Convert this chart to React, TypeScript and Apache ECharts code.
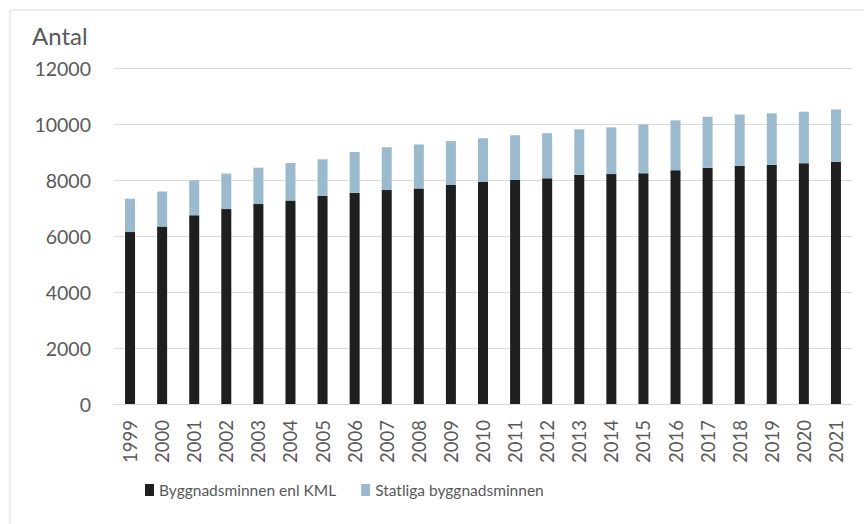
import React, { useEffect, useRef } from "react";
import * as echarts from "echarts";

const years = ["1999","2000","2001","2002","2003","2004","2005","2006","2007","2008","2009","2010","2011","2012","2013","2014","2015","2016","2017","2018","2019","2020","2021"];
const kml = [6140,6340,6740,6960,7140,7270,7440,7540,7640,7700,7830,7930,8000,8060,8190,8210,8240,8350,8440,8510,8540,8600,8650];
const statliga = [1190,1250,1250,1270,1300,1340,1300,1460,1530,1570,1560,1560,1600,1610,1620,1670,1740,1780,1820,1830,1840,1840,1870];
const yTicks = [0, 2000, 4000, 6000, 8000, 10000, 12000];

const FONT = "Lato, 'Open Sans', sans-serif";
const TXT = "#595959";

export default function App() {
  const ref = useRef<HTMLDivElement>(null);
  useEffect(() => {
    if (!ref.current) return;
    const chart = echarts.init(ref.current, null, { renderer: "svg" });
    chart.setOption({
      animation: false,
      backgroundColor: "#ffffff",
      textStyle: { fontFamily: FONT },
      graphic: [
        { type: "rect", shape: { x: 10, y: 10, width: 880, height: 540 }, style: { fill: "none", stroke: "#d9d9d9", lineWidth: 1 }, silent: true },
        { type: "text", left: 32, top: 23, style: { text: "Antal", fill: TXT, font: `24px ${FONT}` } },
      ],
      grid: { left: 114, right: 12, top: 68, bottom: 120 },
      legend: {
        bottom: 21,
        left: 140,
        itemWidth: 9,
        itemHeight: 12,
        itemGap: 25,
        icon: "rect",
        textStyle: { color: TXT, fontSize: 15.5, fontFamily: FONT },
        data: ["Byggnadsminnen enl KML", "Statliga byggnadsminnen"],
      },
      xAxis: {
        type: "category",
        data: years,
        axisLine: { lineStyle: { color: "#d9d9d9" } },
        axisTick: { show: false },
        axisLabel: { rotate: 90, color: TXT, fontSize: 18.5, fontFamily: FONT, margin: 16, interval: 0 },
      },
      yAxis: {
        type: "value",
        min: yTicks[0],
        max: yTicks[yTicks.length - 1],
        interval: 2000,
        axisLine: { show: false },
        axisTick: { show: false },
        splitLine: { lineStyle: { color: "#d9d9d9" } },
        axisLabel: { color: TXT, fontSize: 19.5, fontFamily: FONT, margin: 23, formatter: (v: number) => String(v) },
      },
      series: [
        { name: "Byggnadsminnen enl KML", type: "bar", stack: "a", data: kml, barWidth: 10, itemStyle: { color: "#1f1f1f" } },
        { name: "Statliga byggnadsminnen", type: "bar", stack: "a", data: statliga, barWidth: 10, itemStyle: { color: "#9bbacd" } },
      ],
    });
    return () => chart.dispose();
  }, []);
  return <div ref={ref} style={{ position: "fixed", left: 0, top: 0, width: 864, height: 524 }} />;
}
